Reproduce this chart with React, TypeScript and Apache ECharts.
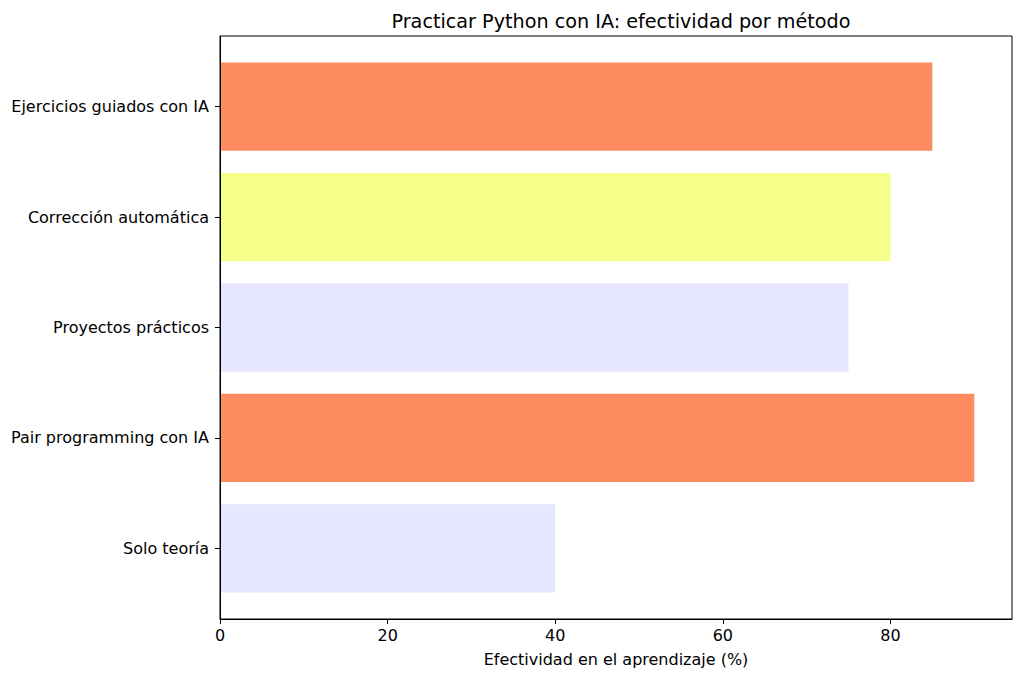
import React, { useEffect, useRef } from 'react';
import * as echarts from 'echarts';

// Methods, top to bottom as shown in the chart
const methods = [
  'Ejercicios guiados con IA',
  'Corrección automática',
  'Proyectos prácticos',
  'Pair programming con IA',
  'Solo teoría',
];
const effectiveness = [85, 80, 75, 90, 40];
const barColors = ['#FF8C61', '#F5FF8A', '#E6E6FF', '#FF8C61', '#E6E6FF'];
const xTicks = [0, 20, 40, 60, 80];

const FONT = 'DejaVu Sans';

export default function App() {
  const chartRef = useRef<HTMLDivElement>(null);

  useEffect(() => {
    if (!chartRef.current) return;
    const chart = echarts.init(chartRef.current, undefined, { renderer: 'svg' });

    const xMax = 94.5; // matplotlib-like 5% margin over 90

    const option = {
      animation: false,
      backgroundColor: '#fff',
      title: {
        text: 'Practicar Python con IA: efectividad por método',
        left: 616,
        top: 7,
        textAlign: 'center',
        textStyle: { fontFamily: FONT, fontSize: 19.2, fontWeight: 'normal', color: '#000' },
      },
      grid: [
        // frame + x axis
        { left: 220, top: 36, width: 792, height: 583, show: true, borderColor: '#000', borderWidth: 1, backgroundColor: 'transparent' },
        // bars (category bands sized like matplotlib's margins)
        { left: 220, top: 51.5, width: 792, height: 552 },
      ],
      xAxis: [
        {
          gridIndex: 0,
          type: 'value',
          min: 0,
          max: xMax,
          interval: 20,
          z: 10,
          name: 'Efectividad en el aprendizaje (%)',
          nameLocation: 'middle',
          nameGap: 32,
          nameTextStyle: { fontFamily: FONT, fontSize: 16, color: '#000' },
          axisLine: { show: true, lineStyle: { color: '#000', width: 1 } },
          axisTick: { show: true, length: 5, lineStyle: { color: '#000' } },
          axisLabel: {
            fontFamily: FONT,
            fontSize: 16,
            color: '#000',
            margin: 8,
            showMaxLabel: false,
            formatter: (v: number) => (xTicks.includes(v) ? String(v) : ''),
          },
          splitLine: { show: false },
        },
        {
          gridIndex: 1,
          type: 'value',
          min: 0,
          max: xMax,
          show: false,
        },
      ],
      yAxis: [
        {
          // left spine drawn above the bars
          gridIndex: 0,
          type: 'value',
          z: 10,
          axisLine: { show: true, lineStyle: { color: '#000', width: 1 } },
          axisTick: { show: false },
          axisLabel: { show: false },
          splitLine: { show: false },
        },
        {
          gridIndex: 1,
          type: 'category',
          data: methods,
          inverse: true,
          axisLine: { show: false },
          axisTick: { show: true, alignWithLabel: true, length: 5, lineStyle: { color: '#000' } },
          axisLabel: { fontFamily: FONT, fontSize: 16, color: '#000', margin: 11 },
          splitLine: { show: false },
        },
      ],
      series: [
        {
          type: 'bar',
          xAxisIndex: 1,
          yAxisIndex: 1,
          barWidth: '80%',
          data: effectiveness.map((v, i) => ({ value: v, itemStyle: { color: barColors[i] } })),
        },
      ],
    };

    chart.setOption(option);
    return () => chart.dispose();
  }, []);

  return <div ref={chartRef} style={{ width: 1024, height: 679, margin: -8 }} />;
}
